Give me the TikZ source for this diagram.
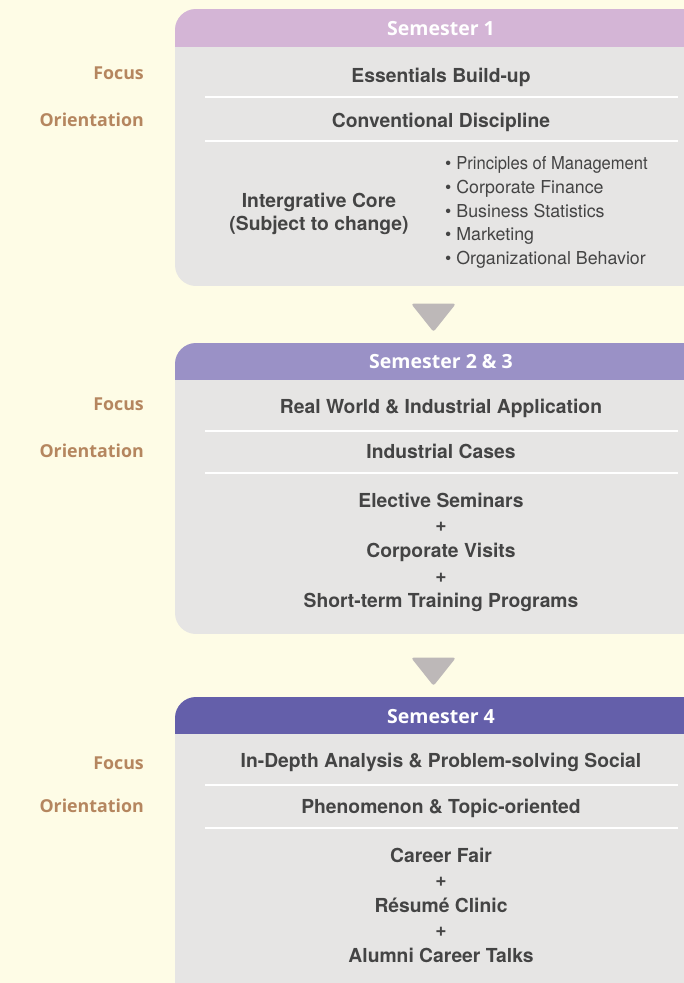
\documentclass[tikz,border=0pt]{standalone}
\usepackage{fontspec}
\setmainfont{TeX Gyre Heros}
\newfontfamily\hdfont{Open Sans}
\definecolor{bgc}{HTML}{FEFCE6}
\definecolor{bodyc}{HTML}{E6E5E4}
\definecolor{hca}{HTML}{D4B5D6}
\definecolor{hcb}{HTML}{9A91C6}
\definecolor{hcc}{HTML}{645FAA}
\definecolor{tric}{HTML}{BDB8B8}
\definecolor{lblc}{HTML}{B5865F}
\definecolor{txtc}{HTML}{444444}
\tikzset{
  hdtext/.style={text=white, font=\hdfont\bfseries\fontsize{19.5}{22}\selectfont, inner sep=0pt, anchor=base},
  lbl/.style={text=lblc, font=\hdfont\bfseries\fontsize{17.8}{20}\selectfont, anchor=base east, inner sep=0pt},
  maintext/.style={text=txtc, font=\bfseries\fontsize{19.3}{23}\selectfont, inner sep=0pt, anchor=base},
  twoline/.style={text=txtc, font=\bfseries\fontsize{19.3}{23}\selectfont, inner sep=0pt, align=center},
  bullettext/.style={text=txtc, font=\fontsize{17.8}{23.7}\selectfont, inner sep=0pt, anchor=base west},
  sepline/.style={white, line width=2pt},
  tri/.style={fill=tric, draw=tric, line width=1pt, rounded corners=2pt}
}
\newcommand{\semblock}[5]{%
  \begin{scope}
    \clip[rounded corners=21pt] (720,#1) -- (175,#1) -- (175,#3) -- (720,#3) -- cycle;
    \fill[bodyc] (175,#1) rectangle (720,#3);
    \fill[#4] (175,#1) rectangle (720,#2);
  \end{scope}
  \coordinate (#5) at (175,#1);
}
\begin{document}
\begin{tikzpicture}[x=1pt,y=-1pt]
\fill[bgc] (0,0) rectangle (684,983);
\useasboundingbox (0,0) rectangle (684,983);

% ---------- Semester 1
\semblock{9}{47}{286}{hca}{boxa}
\node[hdtext] (ha) at (441,35) {Semester 1};
\node[lbl] (fa) at (144,79) {Focus};
\node[lbl] (oa) at (144,126) {Orientation};
\node[maintext] (ma1) at (441,82) {Essentials Build-up};
\draw[sepline] (205,97) -- (678,97);
\node[maintext] (ma2) at (441,127) {Conventional Discipline};
\draw[sepline] (205,141) -- (678,141);
\node[twoline] (ma3) at (319,214) {Intergrative Core\\(Subject to change)};
\foreach \t [count=\i] in {Principles of Management, Corporate Finance, Business Statistics, Marketing, Organizational Behavior}{
  \node[bullettext] (ba\i) at (445,{169.5+23.75*(\i-1)}) {\textbullet\ \ifnum\i=1 \scalebox{0.93}[1]{\t}\else\t\fi};
}

% arrow 1
\draw[tri] (412,304) -- (455,304) -- (433.5,331) -- cycle;

% ---------- Semester 2 & 3
\semblock{343}{380}{634}{hcb}{boxb}
\node[hdtext] (hb) at (441,368) {Semester 2 \& 3};
\node[lbl] (fb) at (144,410) {Focus};
\node[lbl] (ob) at (144,457) {Orientation};
\node[maintext] (mb1) at (441,413) {Real World \& Industrial Application};
\draw[sepline] (205,431) -- (678,431);
\node[maintext] (mb2) at (441,458) {Industrial Cases};
\draw[sepline] (205,473) -- (678,473);
\node[maintext] (mb3) at (441,507) {Elective Seminars};
\node[maintext] (mb4) at (441,531) {+};
\node[maintext] (mb5) at (441,557) {Corporate Visits};
\node[maintext] (mb6) at (441,582) {+};
\node[maintext] (mb7) at (441,607) {Short-term Training Programs};

% arrow 2
\draw[tri] (412,658) -- (455,658) -- (433.5,685) -- cycle;

% ---------- Semester 4
\semblock{697}{734}{1010}{hcc}{boxc}
\node[hdtext] (hc) at (441,723) {Semester 4};
\node[lbl] (fc) at (144,769) {Focus};
\node[lbl] (oc) at (144,812) {Orientation};
\node[maintext] (mc1) at (441,767) {In-Depth Analysis \& Problem-solving Social};
\draw[sepline] (205,785) -- (678,785);
\node[maintext] (mc2) at (441,813) {Phenomenon \& Topic-oriented};
\draw[sepline] (205,828) -- (678,828);
\node[maintext] (mc3) at (441,862) {Career Fair};
\node[maintext] (mc4) at (441,886) {+};
\node[maintext] (mc5) at (441,912) {Résumé Clinic};
\node[maintext] (mc6) at (441,936) {+};
\node[maintext] (mc7) at (441,962) {Alumni Career Talks};
\end{tikzpicture}
\end{document}
